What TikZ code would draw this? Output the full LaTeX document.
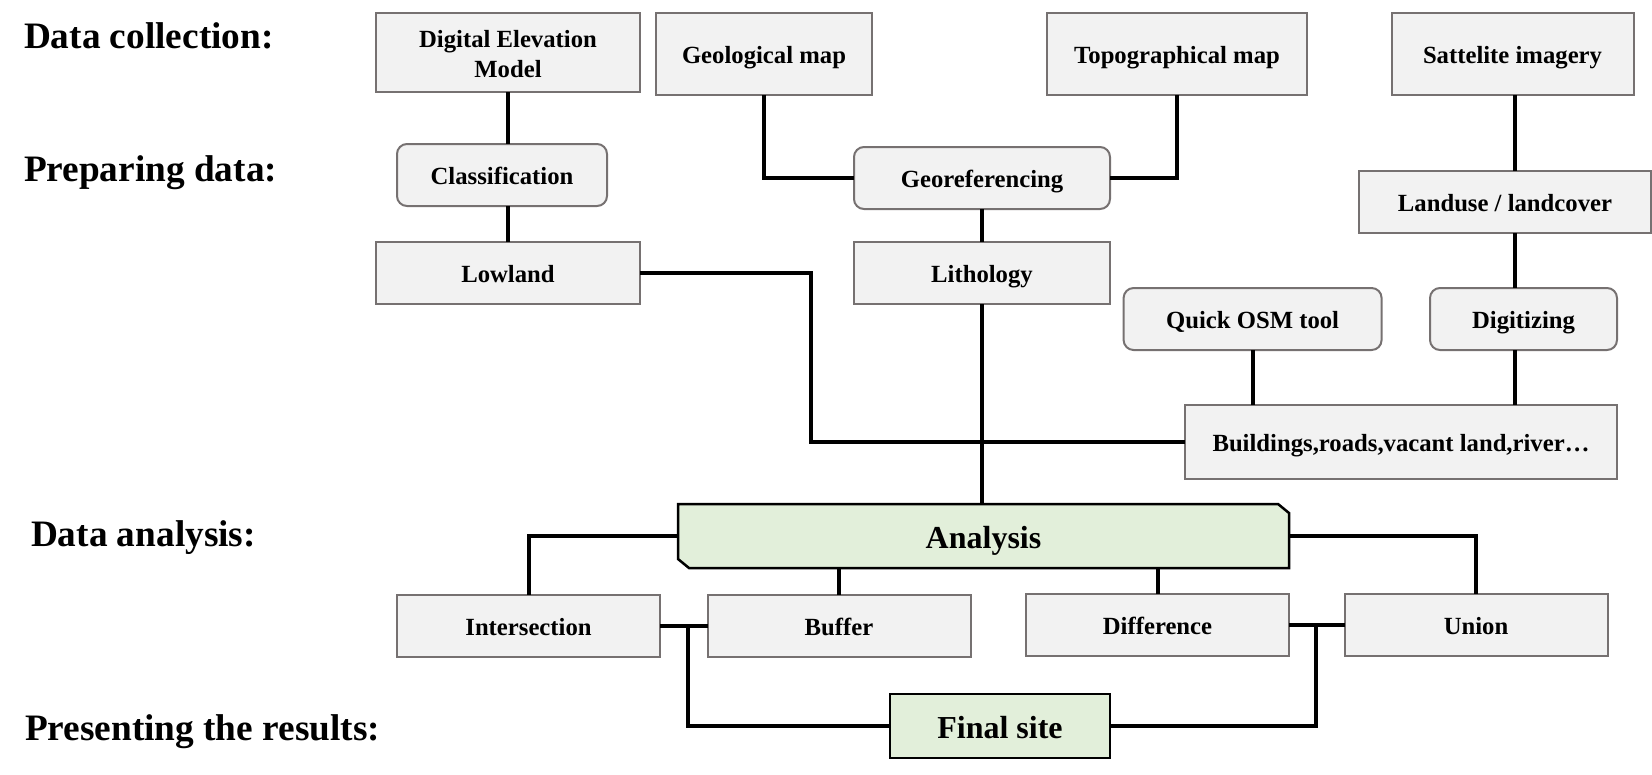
\documentclass[tikz,border=0pt]{standalone}
\usepackage{fontspec}
\setmainfont{Liberation Serif}
\usetikzlibrary{backgrounds}
\definecolor{boxfill}{RGB}{242,242,242}
\definecolor{boxline}{RGB}{118,113,113}
\definecolor{greenfill}{RGB}{226,239,218}
\begin{document}
\begin{tikzpicture}[x=1pt,y=-1pt,
  box/.style={draw=boxline, line width=2pt, fill=boxfill, inner sep=0pt, outer sep=0pt, align=center,
    font=\fontsize{24.7}{29.5}\selectfont\bfseries, text height=18pt, text depth=0pt},
  rbox/.style={box, rounded corners=10pt},
  gbox/.style={box, draw=black, line width=2.5pt, fill=greenfill, font=\fontsize{32}{38}\selectfont\bfseries,
    text height=24pt, text depth=0pt},
  stage/.style={anchor=base west, inner sep=0pt, outer sep=0pt, font=\fontsize{37.3}{44}\selectfont\bfseries},
  link/.style={line width=4pt, black}]
\useasboundingbox (0,0) rectangle (1652,774);

% stage labels
\node[stage] (s1) at (24,48.3) {Data collection:};
\node[stage] (s2) at (24,181.7) {Preparing data:};
\node[stage] (s3) at (31,546.7) {Data analysis:};
\node[stage] (s4) at (25,740) {Presenting the results:};

% data collection
\node[draw=boxline, line width=2pt, fill=boxfill, inner sep=0pt, outer sep=0pt,
  font=\fontsize{24.7}{29.5}\selectfont\bfseries, minimum width=264pt, minimum height=79pt,
  text height=50pt, text depth=0pt]
  (dem) at (508,52.5) {\shortstack{Digital Elevation\\[4.5pt]Model}};
\node[box, minimum width=216pt, minimum height=82pt] (geo) at (764,54) {Geological map};
\node[box, minimum width=260pt, minimum height=82pt] (topo) at (1177,54) {Topographical map};
\node[box, minimum width=242pt, minimum height=82pt] (sat) at (1512.5,54) {Sattelite imagery};

% preparing data
\node[rbox, minimum width=210pt, minimum height=62pt] (cls) at (502,175) {Classification};
\node[rbox, minimum width=256pt, minimum height=62pt] (geor) at (982,178) {Georeferencing};
\node[box, minimum width=292pt, minimum height=62pt] (lu) at (1505,202) {Landuse / landcover};
\node[box, minimum width=264pt, minimum height=62pt] (low) at (508,273) {Lowland};
\node[box, minimum width=256pt, minimum height=62pt] (lith) at (982,273) {Lithology};
\node[rbox, minimum width=258pt, minimum height=62pt] (qo) at (1252.6,319) {Quick OSM tool};
\node[rbox, minimum width=187pt, minimum height=62pt] (dig) at (1523.5,319) {Digitizing};
\node[box, minimum width=432pt, minimum height=74pt] (bld) at (1401,442) {Buildings,roads,vacant land,river…};

% analysis
\node[inner sep=0pt, outer sep=0pt, minimum width=611pt, minimum height=64pt,
  font=\fontsize{32}{38}\selectfont\bfseries, text height=24pt, text depth=0pt] (an) at (983.5,536) {Analysis};
\begin{scope}[on background layer]
  \draw[line width=2.5pt, fill=greenfill, line join=miter]
    (an.north west) -- ([xshift=-11pt]an.north east) -- ([yshift=-9pt]an.north east)
    -- (an.south east) -- ([xshift=11pt]an.south west) -- ([yshift=9pt]an.south west) -- cycle;
\end{scope}
\node[box, minimum width=263pt, minimum height=62pt] (int) at (528.5,626) {Intersection};
\node[box, minimum width=263pt, minimum height=62pt] (buf) at (839,626) {Buffer};
\node[box, minimum width=263pt, minimum height=62pt] (dif) at (1157.5,625) {Difference};
\node[box, minimum width=263pt, minimum height=62pt] (un) at (1476,625) {Union};

% result
\node[gbox, minimum width=220pt, minimum height=64pt] (fin) at (1000,726) {Final site};

% connectors
\coordinate (lk) at (811,273);
\coordinate (j1) at (688,626);
\coordinate (j2) at (1316,625);
\coordinate (sx) at (1514.5,95);

\draw[link] (dem.south) -- (dem.south |- cls.north);
\draw[link] (low.north) -- (low.north |- cls.south);
\draw[link] (geo.south) |- (geor.west);
\draw[link] (geor.east) -| (topo.south);
\draw[link] (geor.south) -- (lith.north);
\draw[link] (lith.south) -- (lith.south |- an.north);
\draw[link] (low.east) -- (lk) |- (bld.west);
\draw[link] (sx) -- (sx |- lu.north);
\draw[link] (sx |- lu.south) -- (sx |- dig.north);
\draw[link] (sx |- dig.south) -- (sx |- bld.north);
\draw[link] (qo.south) -- (qo.south |- bld.north);
\draw[link] (an.west) -| (int.north);
\draw[link] (an.east) -| (un.north);
\draw[link] (buf.north) -- (buf.north |- an.south);
\draw[link] (dif.north) -- (dif.north |- an.south);
\draw[link] (int.east) -- (buf.west);
\draw[link] (j1) |- (fin.west);
\draw[link] (dif.east) -- (un.west);
\draw[link] (j2) |- (fin.east);
\end{tikzpicture}
\end{document}
